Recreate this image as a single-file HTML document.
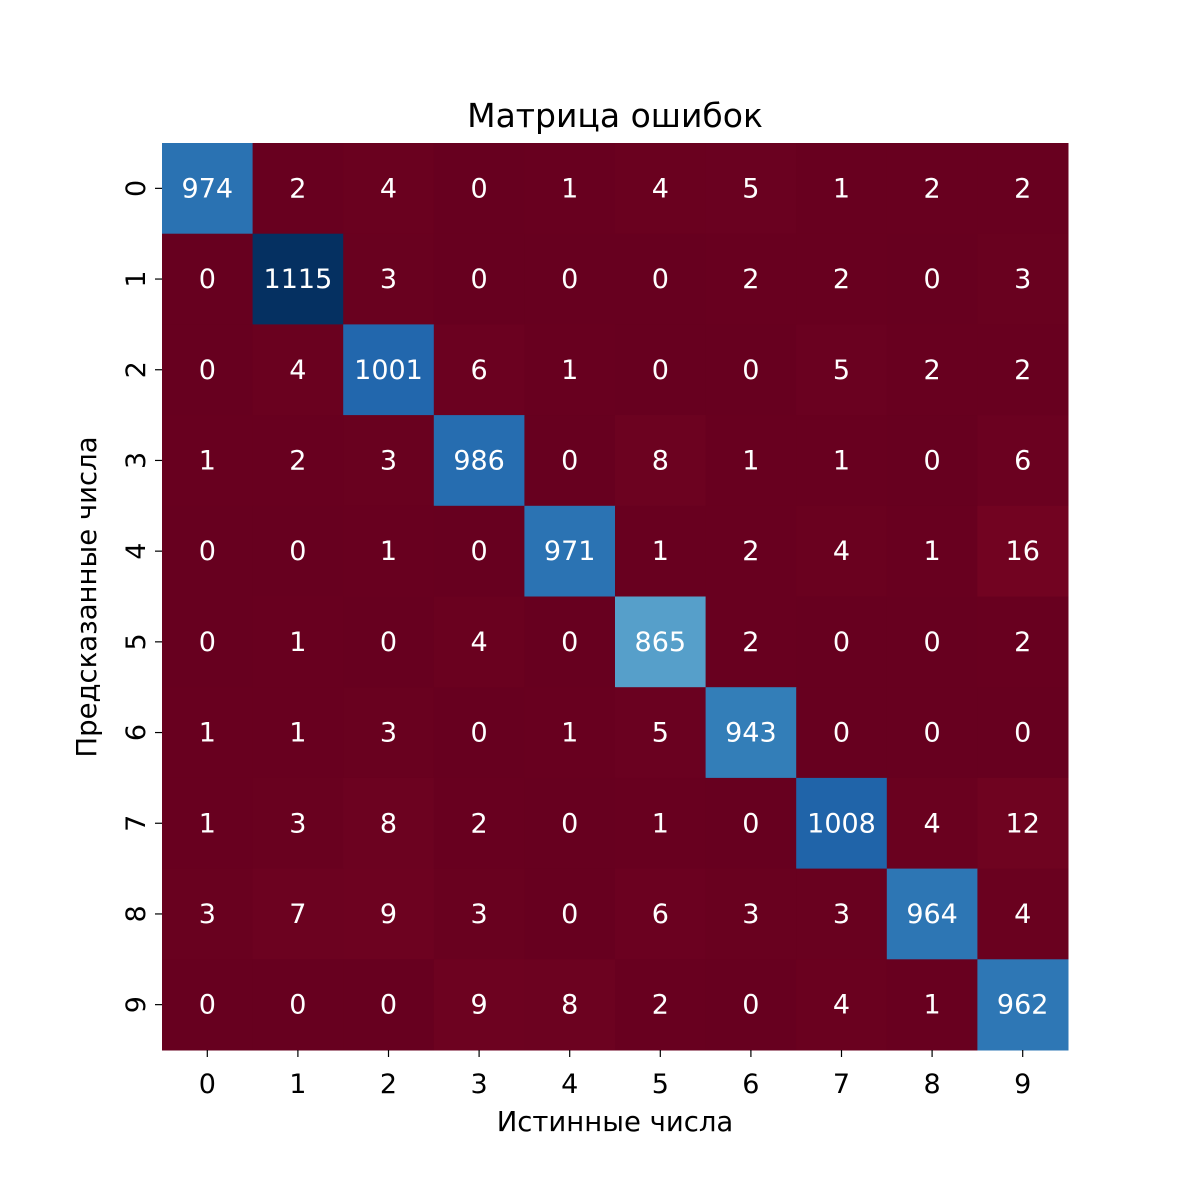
<!DOCTYPE html>
<html><head><meta charset="utf-8"><style>
html,body{margin:0;background:#fff;overflow:hidden;width:1200px;height:1200px;}
svg{display:block;}
svg text{font-family:"DejaVu Sans","Liberation Sans",sans-serif;}
</style></head><body>
<svg id="chart" width="1200" height="1200" xmlns="http://www.w3.org/2000/svg">
<rect width="1200" height="1200" fill="#fff"/>
<text x="615" y="127" font-size="33" text-anchor="middle">Матрица ошибок</text>
<text x="615" y="1131" font-size="27.5" text-anchor="middle">Истинные числа</text>
<text transform="translate(96,597) rotate(-90)" font-size="27.5" text-anchor="middle">Предсказанные числа</text>
<g id="cells"></g><g id="ticks"></g>
</svg>
<script>
const xLabels = ["0","1","2","3","4","5","6","7","8","9"];
const yLabels = ["0","1","2","3","4","5","6","7","8","9"];
const row0 = [974,2,4,0,1,4,5,1,2,2];
const row1 = [0,1115,3,0,0,0,2,2,0,3];
const row2 = [0,4,1001,6,1,0,0,5,2,2];
const row3 = [1,2,3,986,0,8,1,1,0,6];
const row4 = [0,0,1,0,971,1,2,4,1,16];
const row5 = [0,1,0,4,0,865,2,0,0,2];
const row6 = [1,1,3,0,1,5,943,0,0,0];
const row7 = [1,3,8,2,0,1,0,1008,4,12];
const row8 = [3,7,9,3,0,6,3,3,964,4];
const row9 = [0,0,0,9,8,2,0,4,1,962];
const matrix = [row0,row1,row2,row3,row4,row5,row6,row7,row8,row9];

const L=162,T=143,W=906,H=907;
const cw=W/xLabels.length, ch=H/yLabels.length;
const xPos=i=>L+i*cw, yPos=j=>T+j*ch;
const vmax=Math.max(...matrix.flat()), vmin=Math.min(...matrix.flat());
const stops=["#67001f","#b2182b","#d6604d","#f4a582","#fddbc7","#f7f7f7","#d1e5f0","#92c5de","#4393c3","#2166ac","#053061"].map(h=>[1,3,5].map(k=>parseInt(h.substr(k,2),16)));
function color(v){
  let t=(v-vmin)/(vmax-vmin)*(stops.length-1);
  let i=Math.min(Math.floor(t),stops.length-2), f=t-i;
  const c=stops[i].map((a,k)=>Math.round(a+(stops[i+1][k]-a)*f));
  return `rgb(${c.join(',')})`;
}
const NS="http://www.w3.org/2000/svg";
const cells=document.getElementById('cells'), ticks=document.getElementById('ticks');
function mk(tag,attrs,parent){const e=document.createElementNS(NS,tag);for(const k in attrs)e.setAttribute(k,attrs[k]);parent.appendChild(e);return e;}
matrix.forEach((row,j)=>row.forEach((v,i)=>{
  const r=mk('rect',{x:xPos(i),y:yPos(j),width:cw+0.5,height:ch+0.5,fill:color(v)},cells);
  
  
  const t=mk('text',{x:xPos(i)+cw/2,y:yPos(j)+ch/2+9,'font-size':27,'text-anchor':'middle',fill:'#fff'},cells);
  t.textContent=v;
  
  
}));
xLabels.forEach((l,i)=>{
  const cx=xPos(i)+cw/2;
  mk('line',{x1:cx,x2:cx,y1:T+H,y2:T+H+7,stroke:'#000','stroke-width':1.2},ticks);
  const t=mk('text',{x:cx,y:T+H+43,'font-size':27,'text-anchor':'middle'},ticks);
  t.textContent=l;
  
  
});
yLabels.forEach((l,j)=>{
  const cy=yPos(j)+ch/2;
  mk('line',{x1:L-7,x2:L,y1:cy,y2:cy,stroke:'#000','stroke-width':1.2},ticks);
  const t=mk('text',{transform:`translate(${L-17},${cy}) rotate(-90)`,'font-size':27,'text-anchor':'middle'},ticks);
  t.textContent=l;
  
  
});
</script>
</body></html>
